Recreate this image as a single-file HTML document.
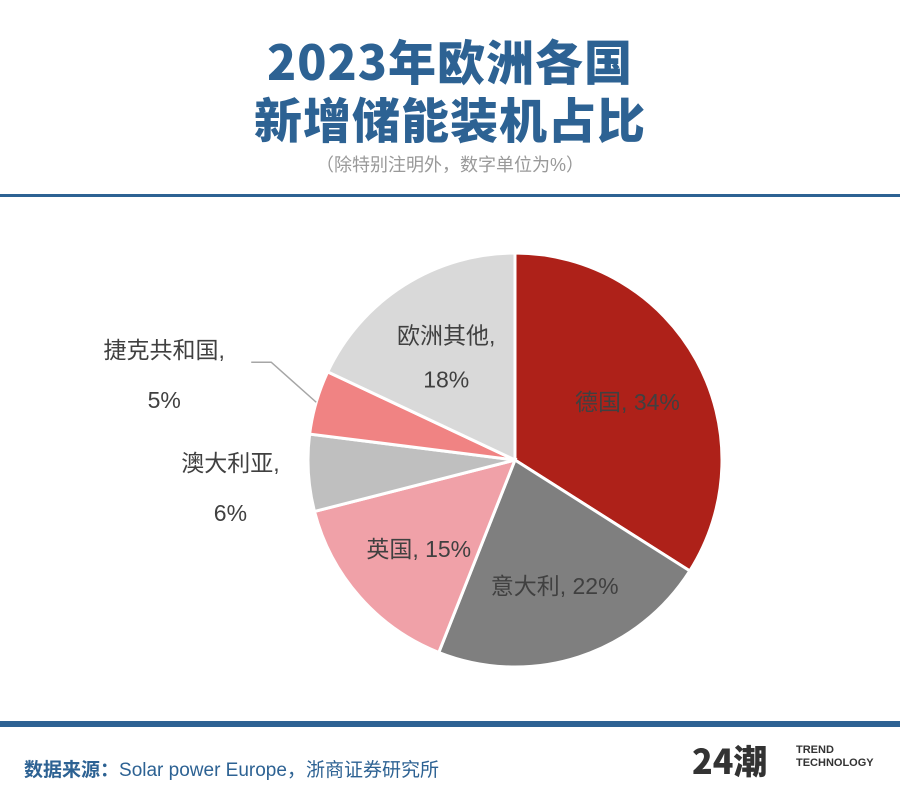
<!DOCTYPE html>
<html><head><meta charset="utf-8"><style>
body{margin:0;width:900px;height:805px;background:#fff;font-family:"Liberation Sans","Noto Sans CJK SC",sans-serif;overflow:hidden;position:relative}
.t{position:absolute;left:0;width:900px;text-align:center;color:#2d6293;font-weight:900;font-size:48px;letter-spacing:1px}
</style></head><body>
<div class="t" style="top:24px;font-family:'Noto Sans CJK SC',sans-serif">2023年欧洲各国</div>
<div class="t" style="top:82px;font-family:'Noto Sans CJK SC',sans-serif">新增储能装机占比</div>
<div style="position:absolute;top:151px;left:0;width:900px;text-align:center;color:#999;font-size:18px">（除特别注明外，数字单位为%）</div>
<div style="position:absolute;top:194px;left:0;width:900px;height:3px;background:#2d6293"></div>
<svg id="chart" width="900" height="520" style="position:absolute;top:200px;left:0"></svg>
<div style="position:absolute;top:721px;left:0;width:900px;height:6px;background:#2d6293"></div>
<div style="position:absolute;top:755px;left:24px;font-size:19px;color:#2d6293"><b>数据来源：</b>Solar power Europe，浙商证券研究所</div>
<div style="position:absolute;top:740px;left:692px;font-size:34px;font-weight:900;color:#333;font-family:'Noto Sans CJK SC',sans-serif;line-height:40px">24潮</div>
<div style="position:absolute;top:744px;left:796px;font-size:11px;font-weight:bold;color:#333;line-height:13px">TREND<br>TECHNOLOGY</div>
<script>
const categories=["德国","意大利","英国","澳大利亚","捷克共和国","欧洲其他"];
const values=[34,22,15,6,5,18];
const colors=["#ae2119","#7f7f7f","#f0a1a8","#bfbfbf","#f08383","#d9d9d9"];
const svg=document.getElementById('chart');
const NS="http://www.w3.org/2000/svg";
const cx=515,cy=260,r=207;
const total=values.reduce((a,b)=>a+b,0);
function pt(a,rr){return [cx+rr*Math.sin(a),cy-rr*Math.cos(a)];}
let acc=0;
values.forEach((v,i)=>{
  const a0=acc/total*2*Math.PI;acc+=v;const a1=acc/total*2*Math.PI;
  const p0=pt(a0,r),p1=pt(a1,r);
  const path=document.createElementNS(NS,'path');
  path.setAttribute('d',`M${cx},${cy}L${p0[0]},${p0[1]}A${r},${r} 0 ${a1-a0>Math.PI?1:0} 1 ${p1[0]},${p1[1]}Z`);
  path.setAttribute('fill',colors[i]);path.setAttribute('stroke','#fff');path.setAttribute('stroke-width','3');
  
  
  svg.appendChild(path);
  const am=(a0+a1)/2;
  const addText=(x,y,s,anchor)=>{const t=document.createElementNS(NS,'text');t.setAttribute('x',x);t.setAttribute('y',y);t.setAttribute('text-anchor',anchor||'middle');t.setAttribute('font-size','23');t.setAttribute('fill','#404040');t.textContent=s;
    
    
    svg.appendChild(t);};
  if(v>=10){
    const p=pt(am,r*0.62);
    if(i===values.length-1){addText(p[0],p[1]-8,categories[i]+',');addText(p[0],p[1]+36,v+'%');}
    else addText(p[0],p[1]+12,categories[i]+', '+v+'%');
  }else{
    const p=pt(am,r*1.0);
    const lx=p[0]-(i===4?152:78), ly=p[1]+(i===4?-42:0);
    if(i===4){const l=document.createElementNS(NS,'polyline');l.setAttribute('points',`${p[0]},${p[1]} ${p[0]-45},${p[1]-40} ${p[0]-65},${p[1]-40}`);l.setAttribute('fill','none');l.setAttribute('stroke','#a6a6a6');l.setAttribute('stroke-width','1.5');
      
      
      svg.appendChild(l);}
    addText(lx,ly-2,categories[i]+',');addText(lx,ly+48,v+'%');
  }
});
</script>
</body></html>
